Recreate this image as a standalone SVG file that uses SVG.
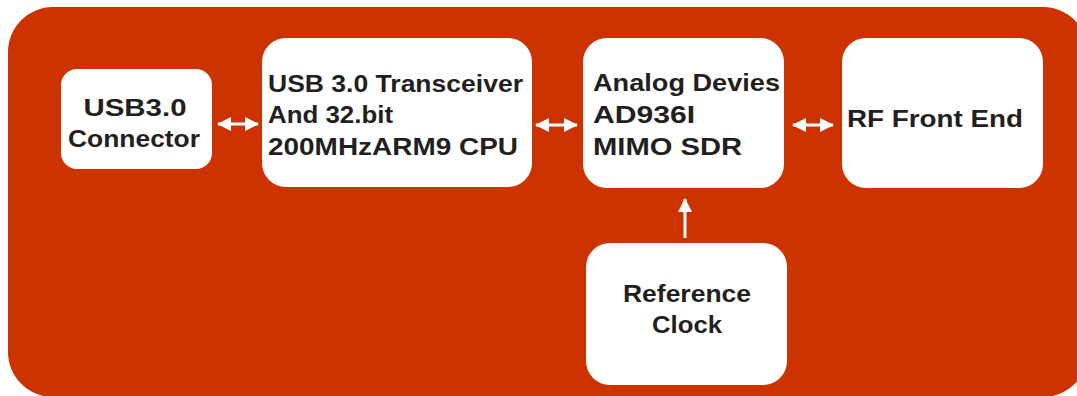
<svg xmlns="http://www.w3.org/2000/svg" width="1077" height="396" viewBox="0 0 1077 396">
<defs>
<style>
.bg{fill:#cc3300}
.node{fill:#ffffff}
.t{font-family:"Liberation Sans",Arial,sans-serif;font-weight:bold;font-size:24px;fill:#231f20}
.c{text-anchor:middle}
.shaft{stroke:#ffffff;stroke-width:3;fill:none}
.head{fill:#ffffff}
</style>
<marker id="ah" viewBox="0 0 14 14" refX="13" refY="7" markerWidth="14" markerHeight="14" markerUnits="userSpaceOnUse" orient="auto-start-reverse">
<path d="M0,0 L14,7 L0,14 Z" class="head"/>
</marker>
</defs>
<rect class="bg" x="8" y="7" width="1080" height="390" rx="45" ry="45"/>
<g id="usb-connector">
<rect class="node" x="61" y="69" width="151" height="100" rx="16"/>
<text class="t c" x="135" y="116" textLength="103" lengthAdjust="spacingAndGlyphs">USB3.0</text>
<text class="t c" x="134" y="147" textLength="132" lengthAdjust="spacingAndGlyphs">Connector</text>
</g>
<g id="usb-transceiver">
<rect class="node" x="262" y="38" width="270" height="149" rx="24"/>
<text class="t" x="268" y="92" textLength="255" lengthAdjust="spacingAndGlyphs">USB 3.0 Transceiver</text>
<text class="t" x="268" y="123" textLength="125" lengthAdjust="spacingAndGlyphs">And 32.bit</text>
<text class="t" x="268" y="155" textLength="250" lengthAdjust="spacingAndGlyphs">200MHzARM9 CPU</text>
</g>
<g id="ad9361">
<rect class="node" x="583" y="38" width="201" height="150" rx="24"/>
<text class="t" x="593" y="91" textLength="187" lengthAdjust="spacingAndGlyphs">Analog Devies</text>
<text class="t" x="593" y="123" textLength="102" lengthAdjust="spacingAndGlyphs">AD936I</text>
<text class="t" x="593" y="155" textLength="149" lengthAdjust="spacingAndGlyphs">MIMO SDR</text>
</g>
<g id="rf-front-end">
<rect class="node" x="842" y="38" width="201" height="150" rx="24"/>
<text class="t" x="847" y="127" textLength="176" lengthAdjust="spacingAndGlyphs">RF Front End</text>
</g>
<g id="reference-clock">
<rect class="node" x="586" y="243" width="201" height="142" rx="24"/>
<text class="t c" x="687" y="302" textLength="128" lengthAdjust="spacingAndGlyphs">Reference</text>
<text class="t c" x="687" y="333" textLength="70" lengthAdjust="spacingAndGlyphs">Clock</text>
</g>
<g id="connectors">
<line class="shaft" x1="218" y1="124" x2="258" y2="124" marker-start="url(#ah)" marker-end="url(#ah)"/>
<line class="shaft" x1="536" y1="125" x2="577" y2="125" marker-start="url(#ah)" marker-end="url(#ah)"/>
<line class="shaft" x1="793" y1="125" x2="833" y2="125" marker-start="url(#ah)" marker-end="url(#ah)"/>
<line class="shaft" x1="685" y1="238" x2="685" y2="199" stroke-width="2.5" marker-end="url(#ah)"/>
</g>
</svg>
